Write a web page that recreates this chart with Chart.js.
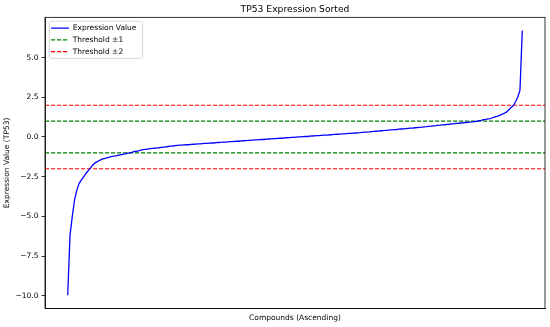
<!DOCTYPE html>
<html>
<head>
<meta charset="utf-8">
<script src="https://cdn.jsdelivr.net/npm/chart.js@4/dist/chart.umd.min.js"></script>
<style>
  html, body { margin: 0; padding: 0; background: #fff; }
  canvas { display: block; }
</style>
</head>
<body>
<canvas id="c" width="550" height="327"></canvas>
<script>
// ---- data ----
const chartTitle = "TP53 Expression Sorted";
const xAxisLabel = "Compounds (Ascending)";
const yAxisLabel = "Expression Value (TP53)";
const seriesLabel = "Expression Value";

// sorted TP53 expression values, one per compound (ascending)
const expressionValues = [
  -9.97, -6.20, -5.00, -3.95, -3.35, -2.92, -2.70, -2.50, -2.30, -2.12,
  -1.95, -1.76, -1.63, -1.55, -1.47, -1.40, -1.36, -1.32, -1.28, -1.24,
  -1.21, -1.19, -1.16, -1.13, -1.10, -1.07, -1.03, -1.00, -0.97, -0.93,
  -0.90, -0.87, -0.83, -0.80, -0.78, -0.76, -0.74, -0.72, -0.71, -0.69,
  -0.68, -0.66, -0.64, -0.62, -0.60, -0.58, -0.57, -0.55, -0.53, -0.52,
  -0.51, -0.50, -0.49, -0.49, -0.47, -0.46, -0.45, -0.44, -0.43, -0.42,
  -0.41, -0.40, -0.39, -0.38, -0.38, -0.36, -0.35, -0.34, -0.33, -0.32,
  -0.31, -0.30, -0.29, -0.28, -0.27, -0.27, -0.25, -0.24, -0.23, -0.22,
  -0.21, -0.20, -0.19, -0.18, -0.17, -0.16, -0.16, -0.14, -0.13, -0.12,
  -0.11, -0.10, -0.09, -0.08, -0.08, -0.06, -0.05, -0.04, -0.03, -0.02,
  -0.01, 0.00, 0.01, 0.02, 0.03, 0.03, 0.05, 0.06, 0.07, 0.08,
  0.09, 0.10, 0.11, 0.12, 0.12, 0.14, 0.15, 0.16, 0.17, 0.18,
  0.19, 0.20, 0.21, 0.22, 0.23, 0.24, 0.25, 0.26, 0.27, 0.29,
  0.30, 0.31, 0.32, 0.34, 0.35, 0.36, 0.37, 0.39, 0.40, 0.41,
  0.42, 0.44, 0.45, 0.46, 0.47, 0.49, 0.50, 0.51, 0.53, 0.54,
  0.55, 0.56, 0.58, 0.59, 0.61, 0.62, 0.64, 0.65, 0.67, 0.68,
  0.70, 0.71, 0.73, 0.74, 0.76, 0.77, 0.79, 0.80, 0.82, 0.83,
  0.85, 0.86, 0.88, 0.89, 0.91, 0.92, 0.94, 0.95, 0.97, 0.99,
  1.02, 1.05, 1.09, 1.11, 1.14, 1.16, 1.21, 1.26, 1.30, 1.36,
  1.42, 1.48, 1.56, 1.70, 1.84, 1.96, 2.20, 2.50, 2.95, 6.70
];

// threshold levels (drawn at +level and -level)
const thresholdLevels = [1, 2];
const thresholdLabels = ["Threshold \u00b11", "Threshold \u00b12"];
const thresholdColors = ["green", "red"];

// y tick labels
const yTickValues = [-10.0, -7.5, -5.0, -2.5, 0.0, 2.5, 5.0];

// ---- derived ranges (matplotlib-style 5% margins) ----
const N = expressionValues.length;
const xPad = 0.05 * (N - 1);
const xMin = -xPad, xMax = (N - 1) + xPad;
const dMin = Math.min(...expressionValues), dMax = Math.max(...expressionValues);
const yPad = 0.05 * (dMax - dMin);
const yMin = dMin - yPad, yMax = dMax + yPad;

Chart.defaults.font.family = "'DejaVu Sans', sans-serif";
Chart.defaults.color = '#000';

const datasets = [{
  label: seriesLabel,
  data: expressionValues.map((v, i) => ({ x: i, y: v })),
  borderColor: 'blue',
  backgroundColor: 'blue',
  borderWidth: 1.3,
  pointRadius: 0,
  tension: 0,
  fill: false
}];
thresholdLevels.forEach((lvl, k) => {
  [lvl, -lvl].forEach((v, j) => {
    datasets.push({
      label: thresholdLabels[k],
      data: [{ x: xMin, y: v }, { x: xMax, y: v }],
      borderColor: thresholdColors[k],
      backgroundColor: thresholdColors[k],
      borderWidth: 1.15,
      borderDash: [4.2, 1.8],
      pointRadius: 0,
      fill: false,
      showInLegend: j === 0
    });
  });
});

const legendFont = 7.5;
const legendPad = 4.3;
const legendSampleW = 18;

const framePlugin = {
  id: 'framePlugin',
  afterLayout(chart) {
    const ca = chart.chartArea;
    const lg = chart.legend;
    if (lg) {
      lg.left = ca.left + 6 - legendPad;
      lg.top = ca.top + 6.95 - legendPad;
    }
  },
  beforeDraw(chart) {
    const ctx = chart.ctx;
    const lg = chart.legend;
    if (!lg || !lg.legendItems) return;
    ctx.save();
    ctx.font = legendFont + "px 'DejaVu Sans'";
    let maxW = 0;
    lg.legendItems.forEach(it => { maxW = Math.max(maxW, ctx.measureText(it.text).width); });
    const itemX = lg.left + legendPad;
    const itemY = lg.top + legendPad;
    const n = lg.legendItems.length;
    const x0 = itemX - 1.7;
    const y0 = itemY - 3;
    const x1 = itemX + legendSampleW + legendFont / 2 + maxW + 6;
    const y1 = itemY + (n - 1) * (legendFont + legendPad) + legendFont + 3;
    ctx.beginPath();
    ctx.roundRect(x0, y0, x1 - x0, y1 - y0, 2);
    ctx.fillStyle = 'rgba(255,255,255,0.8)';
    ctx.fill();
    ctx.lineWidth = 0.8;
    ctx.strokeStyle = '#cccccc';
    ctx.stroke();
    ctx.restore();
  },
  afterDraw(chart) {
    const ca = chart.chartArea;
    const ctx = chart.ctx;
    ctx.save();
    ctx.lineWidth = 0.8;
    ctx.strokeStyle = '#000';
    ctx.strokeRect(ca.left, ca.top, ca.right - ca.left, ca.bottom - ca.top);
    ctx.restore();
  }
};

new Chart(document.getElementById('c'), {
  type: 'line',
  data: { datasets },
  options: {
    responsive: false,
    animation: false,
    devicePixelRatio: 1,
    layout: { padding: { left: 0, right: 5, top: 0, bottom: 0 } },
    plugins: {
      title: {
        display: true,
        text: chartTitle,
        fullSize: false,
        font: { size: 9.2, weight: 'normal' },
        color: '#000',
        padding: { top: 4, bottom: 2.3 }
      },
      legend: {
        display: true,
        position: 'chartArea',
        align: 'start',
        labels: {
          font: { size: legendFont },
          color: '#000',
          usePointStyle: true,
          pointStyle: 'line',
          pointStyleWidth: legendSampleW,
          padding: legendPad,
          generateLabels(chart) {
            const items = Chart.defaults.plugins.legend.labels.generateLabels(chart);
            items.forEach(it => {
              const ds = chart.data.datasets[it.datasetIndex];
              it.lineDash = ds.borderDash || [];
              it.strokeStyle = ds.borderColor;
              it.fillStyle = ds.borderColor;
              it.lineWidth = ds.borderWidth;
              it.pointStyle = 'line';
            });
            return items;
          },
          filter: (item, data) => data.datasets[item.datasetIndex].showInLegend !== false
        }
      },
      tooltip: { enabled: false }
    },
    scales: {
      x: {
        type: 'linear',
        min: xMin,
        max: xMax,
        ticks: { display: false },
        grid: { display: false },
        border: { display: true, color: '#000', width: 0.8 },
        title: {
          display: true,
          text: xAxisLabel,
          font: { size: 7.5 },
          color: '#000',
          padding: { top: 0, bottom: 4.5 }
        },
        afterFit(s) { s.height = 18.5; }
      },
      y: {
        type: 'linear',
        min: yMin,
        max: yMax,
        afterBuildTicks(s) { s.ticks = yTickValues.map(v => ({ value: v })); },
        ticks: {
          font: { size: 7.5 },
          color: '#000',
          padding: 3,
          autoSkip: false,
          callback: v => Number(v).toFixed(1).replace('-', '\u2212')
        },
        grid: {
          display: true,
          drawOnChartArea: false,
          drawTicks: true,
          tickLength: 3.5,
          color: '#000',
          lineWidth: 0.8
        },
        border: { display: true, color: '#000', width: 0.8 },
        title: {
          display: true,
          text: yAxisLabel,
          font: { size: 7.5 },
          color: '#000',
          padding: { top: 3, bottom: 0 }
        },
        afterFit(s) { s.width = 45; }
      }
    }
  },
  plugins: [framePlugin]
});
</script>
</body>
</html>
